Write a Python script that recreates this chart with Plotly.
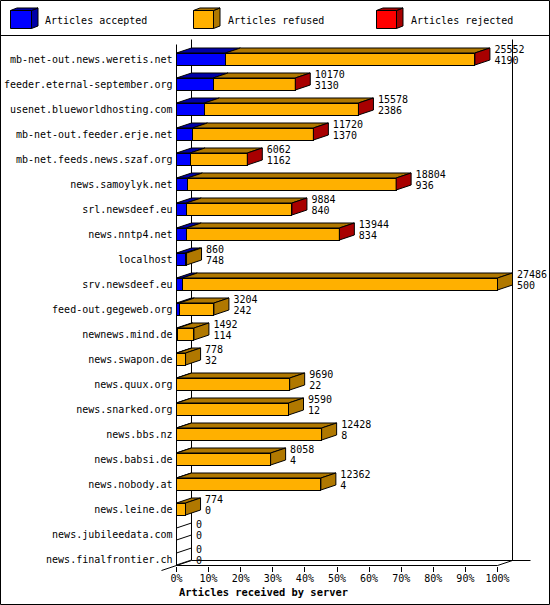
import plotly.graph_objects as go

servers = ['mb-net-out.news.weretis.net', 'feeder.eternal-september.org',
           'usenet.blueworldhosting.com', 'mb-net-out.feeder.erje.net',
           'mb-net.feeds.news.szaf.org', 'news.samoylyk.net', 'srl.newsdeef.eu',
           'news.nntp4.net', 'localhost', 'srv.newsdeef.eu', 'feed-out.gegeweb.org',
           'newnews.mind.de', 'news.swapon.de', 'news.quux.org', 'news.snarked.org',
           'news.bbs.nz', 'news.babsi.de', 'news.nobody.at', 'news.leine.de',
           'news.jubileedata.com', 'news.finalfrontier.ch']
totals = [25552, 10170, 15578, 11720, 6062, 18804, 9884, 13944, 860, 27486, 3204,
          1492, 778, 9690, 9590, 12428, 8058, 12362, 774, 0, 0]
accepted = [4190, 3130, 2386, 1370, 1162, 936, 840, 834, 748, 500, 242,
            114, 32, 22, 12, 8, 4, 4, 0, 0, 0]
# rejected is too small to read, only the red side of the bar shows it
rejected = [20, 15, 12, 10, 8, 6, 5, 4, 0, 0, 0, 0, 0, 0, 0, 0, 0, 0, 0, 0, 0]
refused = [t - a - r for t, a, r in zip(totals, accepted, rejected)]
pct_ticks = [0, 10, 20, 30, 40, 50, 60, 70, 80, 90, 100]

BLUE, BLUE_DARK = '#0000FF', '#0000A8'
ORANGE, ORANGE_DARK = '#FFB000', '#B07800'
RED, RED_DARK = '#FF0000', '#A80000'
FONT = 'DejaVu Sans Mono'
W, H = 550, 605

# front face of the 3d box in pixels. the axes cover the whole canvas, because
# plotly clips scatter lines to the plot area and the depth sticks out of it
LEFT, RIGHT, TOP, BOTTOM = 176.5, 497.5, 44.5, 565.5
X_PX = (RIGHT - LEFT) / 100   # pixels per percent
Y_PX = 25                     # pixels per row
ROW0 = 59
DX = 15 / X_PX
DY = 5 / Y_PX
BAR_H = 12 / Y_PX
x_range = [-LEFT / X_PX, (W - LEFT) / X_PX]
y_range = [(H - ROW0) / Y_PX, -ROW0 / Y_PX]
y_front_top = (TOP - ROW0) / Y_PX
y_front_bot = (BOTTOM - ROW0) / Y_PX
max_total = max(totals)


def pct(v):
    return v / max_total * 100


rows = list(range(len(servers)))
fig = go.Figure()

# box lines, on the lower subplot so that the bars hide them
box_x = [0, 0, None, 0, 100, None, DX, DX, None, 100 + DX, 100 + DX, None,
         DX, 100 + DX + 18 / X_PX, None, -DX, DX, None, 100, 100 + DX]
box_y = [y_front_top, y_front_bot, None, y_front_bot, y_front_bot, None,
         y_front_top - DY, y_front_bot - DY, None, y_front_top - DY, y_front_bot - DY, None,
         y_front_bot - DY, y_front_bot - DY, None, y_front_bot + DY, y_front_bot - DY, None,
         y_front_bot, y_front_bot - DY]
fig.add_trace(go.Scatter(x=box_x, y=box_y, mode='lines',
                         line=dict(color='black', width=1), hoverinfo='skip'))

# front faces
for name, vals, col in [('Articles accepted', accepted, BLUE),
                        ('Articles refused', refused, ORANGE),
                        ('Articles rejected', rejected, RED)]:
    fig.add_trace(go.Bar(y=rows, x=[pct(v) for v in vals], name=name, orientation='h',
                         width=BAR_H, marker=dict(color=col, line=dict(color='black', width=1)),
                         xaxis='x2', yaxis='y2'))


def add_faces(xs, ys, col):
    fig.add_trace(go.Scatter(x=xs, y=ys, mode='lines', fill='toself', fillcolor=col,
                             line=dict(color='black', width=1),
                             hoverinfo='skip', xaxis='x2', yaxis='y2'))


# top faces of each part of the stack, and the end face of the stack
for vals_from, vals, dark in [([0] * len(rows), accepted, BLUE_DARK),
                              (accepted, refused, ORANGE_DARK)]:
    xs, ys = [], []
    for i in rows:
        if vals[i] == 0:
            continue
        x0 = pct(vals_from[i])
        x1 = x0 + pct(vals[i])
        t = i - BAR_H / 2
        xs += [x0, x1, x1 + DX, x0 + DX, x0, None]
        ys += [t, t, t - DY, t - DY, t, None]
    add_faces(xs, ys, dark)

for dark, keep in [('white', lambda i: totals[i] == 0),
                   (ORANGE_DARK, lambda i: totals[i] > 0 and rejected[i] == 0),
                   (RED_DARK, lambda i: rejected[i] > 0)]:
    xs, ys = [], []
    for i in rows:
        if not keep(i):
            continue
        x1 = pct(totals[i])
        t, b = i - BAR_H / 2, i + BAR_H / 2
        xs += [x1, x1 + DX, x1 + DX, x1, x1, None]
        ys += [t, t - DY, b - DY, b, t, None]
    add_faces(xs, ys, dark)

# value labels, total above and accepted below
label_x = [pct(t) + DX + 4.5 / X_PX for t in totals]
fig.add_trace(go.Scatter(x=label_x, y=[i - 8.5 / Y_PX for i in rows], mode='text',
                         text=[str(v) for v in totals], textposition='middle right',
                         textfont=dict(family=FONT, size=10, color='black'),
                         hoverinfo='skip', xaxis='x2', yaxis='y2'))
fig.add_trace(go.Scatter(x=label_x, y=[i + 2.5 / Y_PX for i in rows], mode='text',
                         text=[str(v) for v in accepted], textposition='middle right',
                         textfont=dict(family=FONT, size=10, color='black'),
                         hoverinfo='skip', xaxis='x2', yaxis='y2'))


def px(p):
    return p / W


def py(p):
    return 1 - p / H


# frame and legend
shapes = [dict(type='rect', xref='paper', yref='paper', x0=px(0.5), x1=px(549.5), y0=py(0.5),
               y1=py(604.5), line=dict(color='black', width=1), layer='below'),
          dict(type='line', xref='paper', yref='paper', x0=px(0.5), x1=px(549.5), y0=py(35.5),
               y1=py(35.5), line=dict(color='black', width=1))]
annotations = []
swatches = [(10.5, 31.5, BLUE, BLUE_DARK, 'Articles accepted', 42.5),
            (193.5, 213.5, ORANGE, ORANGE_DARK, 'Articles refused', 225.5),
            (376.5, 396.5, RED, RED_DARK, 'Articles rejected', 408.5)]
for x0, x1, col, dark, label, tx in swatches:
    t, b = 10.5, 28.5
    side = 'M%f,%f L%f,%f L%f,%f L%f,%f Z' % (px(x1), py(t), px(x1 + 6.5), py(t - 2.5),
                                              px(x1 + 6.5), py(b - 2.5), px(x1), py(b))
    top = 'M%f,%f L%f,%f L%f,%f L%f,%f Z' % (px(x0), py(t), px(x1), py(t),
                                             px(x1 + 6.5), py(t - 2.5), px(x0 + 6.5), py(t - 2.5))
    for path in [side, top]:
        shapes.append(dict(type='path', xref='paper', yref='paper', path=path, fillcolor=dark,
                           line=dict(color='black', width=1)))
    shapes.append(dict(type='rect', xref='paper', yref='paper', x0=px(x0), x1=px(x1), y0=py(t),
                       y1=py(b), fillcolor=col, line=dict(color='black', width=1)))
    annotations.append(dict(text=label, xref='paper', yref='paper', x=px(tx), y=py(20),
                            xanchor='left', yanchor='middle', showarrow=False,
                            font=dict(family=FONT, size=10, color='black')))
annotations.append(dict(text='<b>Articles received by server</b>', xref='paper', yref='paper',
                        x=px(263.5), y=py(592), xanchor='center', yanchor='middle', showarrow=False,
                        font=dict(family=FONT, size=10.4, color='black')))

fig.update_layout(
    width=W, height=H, showlegend=False, barmode='stack',
    margin=dict(l=0, r=0, t=0, b=0, pad=0),
    paper_bgcolor='white', plot_bgcolor='rgba(0,0,0,0)',
    shapes=shapes, annotations=annotations,
    xaxis=dict(range=x_range, domain=[0, 1], anchor='free', position=1 - BOTTOM / H,
               tickmode='array', tickvals=pct_ticks, ticktext=['%d%%' % v for v in pct_ticks],
               ticks='outside', ticklen=5, tickwidth=1, tickcolor='black', showgrid=False,
               zeroline=False, showline=False, automargin=False, ticklabelstandoff=-2,
               tickfont=dict(family=FONT, size=10, color='black')),
    yaxis=dict(range=y_range, domain=[0, 1], anchor='free', position=LEFT / W,
               tickmode='array', tickvals=rows, ticktext=servers, ticks='', showgrid=False,
               zeroline=False, showline=False, automargin=False, ticklabelstandoff=4,
               tickfont=dict(family=FONT, size=10, color='black')),
    xaxis2=dict(range=x_range, overlaying='x', visible=False, showgrid=False, zeroline=False),
    yaxis2=dict(range=y_range, overlaying='y', visible=False, showgrid=False, zeroline=False),
)

fig.write_html('out.html', post_script="document.body.style.margin='0';",
               config=dict(displayModeBar=False))
